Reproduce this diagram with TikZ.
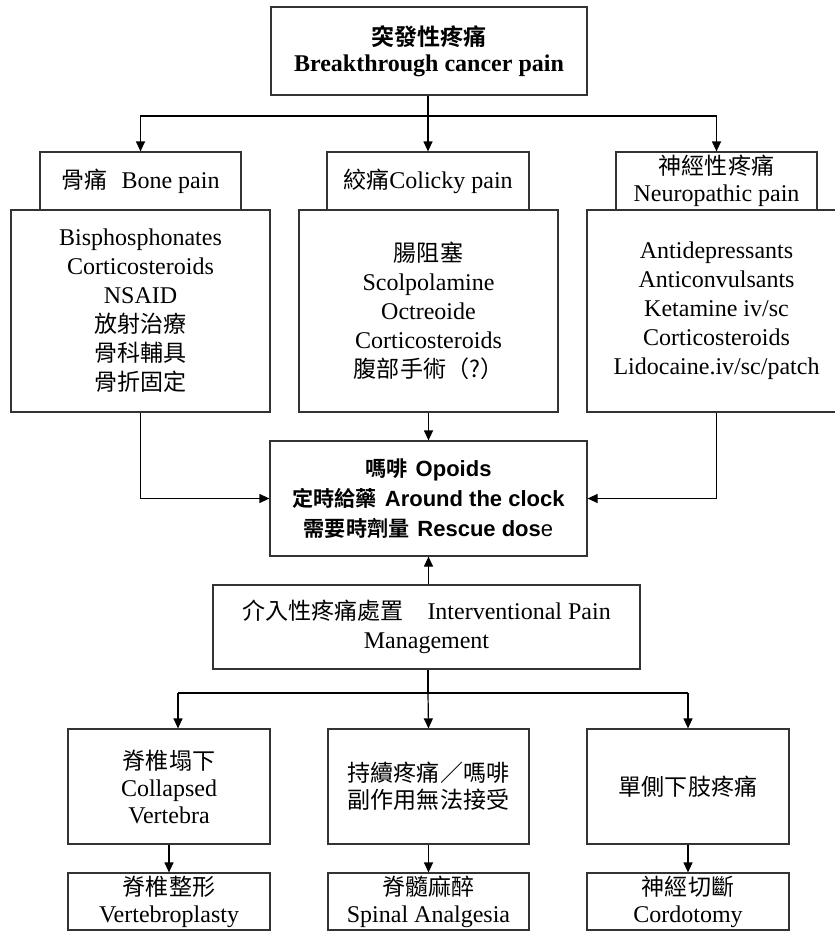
\documentclass[tikz,border=0pt]{standalone}
\usepackage{fontspec}
\usetikzlibrary{arrows.meta}
\setmainfont{Liberation Serif}
\newfontfamily\arialfont{Liberation Sans}
\newfontfamily\cjk[Scale=0.96,BoldFont={Noto Sans CJK TC Bold}]{Noto Sans CJK TC}
\newcommand\zh[1]{{\cjk #1}}

\tikzset{
  box/.style={draw=black!80, line width=1.2pt, rectangle, inner sep=0pt,
              align=center, font=\fontsize{24}{29}\selectfont},
  tight/.style={font=\fontsize{24}{27}\selectfont},
  ln/.style={draw=black, line width=1.2pt},
  arr/.style={ln, -{Triangle[length=10pt,width=9pt]}}
}

\begin{document}
\begin{tikzpicture}[x=1pt,y=-1pt]
\useasboundingbox (0,0) rectangle (835,932);

% title
\node[box, font=\fontsize{24}{26}\selectfont, minimum width=316pt, minimum height=88pt] (top) at (429,51)
  {\bfseries\zh{突發性疼痛}\\ \bfseries Breakthrough cancer pain};

% three kinds of pain: headers
\node[box, minimum width=201pt, minimum height=58pt] (bonehead) at (140.5,181)
  {\zh{骨痛}\hspace{14pt}Bone pain};
\node[box, minimum width=202pt, minimum height=58pt] (colhead) at (428,181)
  {\zh{絞痛}Colicky pain};
\node[box, tight, minimum width=201pt, minimum height=58pt] (neurohead) at (716.5,181)
  {\zh{神經性疼痛}\\Neuropathic pain};

% three kinds of pain: treatments
\node[box, minimum width=259pt, minimum height=202pt] (bonebody) at (140.5,311)
  {Bisphosphonates\\Corticosteroids\\NSAID\\\zh{放射治療}\\\zh{骨科輔具}\\\zh{骨折固定}};
\node[box, minimum width=259pt, minimum height=202pt] (colbody) at (428.5,311)
  {\zh{腸阻塞}\\Scolpolamine\\Octreoide\\Corticosteroids\\\zh{腹部手術（?）}};
\node[box, minimum width=259pt, minimum height=202pt] (neurobody) at (716.5,311)
  {Antidepressants\\Anticonvulsants\\Ketamine iv/sc\\Corticosteroids\\Lidocaine.iv/sc/patch};

% opioids
\node[box, minimum width=317pt, minimum height=115pt,
      font=\arialfont\bfseries\fontsize{22}{30}\selectfont] (opioid) at (428.5,498.5)
  {\zh{嗎啡}\hspace{8pt}Opoids\\
   \zh{定時給藥}\hspace{8pt}Around the clock\\
   \zh{需要時劑量}\hspace{8pt}Rescue dos{\mdseries e}};

% interventional management
\node[box, minimum width=427pt, minimum height=84pt] (interv) at (426.5,627)
  {\zh{介入性疼痛處置}\hspace{24pt}Interventional Pain\\Management};

% indications
\node[box, tight, minimum width=202pt, minimum height=115pt] (collapsed) at (169,786.5)
  {\zh{脊椎塌下}\\Collapsed\\Vertebra};
\node[box, tight, minimum width=201pt, minimum height=115pt] (persist) at (428.5,786.5)
  {\zh{持續疼痛／嗎啡}\\\zh{副作用無法接受}};
\node[box, minimum width=202pt, minimum height=115pt] (unilat) at (688,786.5)
  {\zh{單側下肢疼痛}};

% procedures
\node[box, tight, minimum width=202pt, minimum height=57pt] (vertebro) at (169,901.5)
  {\zh{脊椎整形}\\Vertebroplasty};
\node[box, tight, minimum width=201pt, minimum height=57pt] (spinal) at (428.5,901.5)
  {\zh{脊髓麻醉}\\Spinal Analgesia};
\node[box, tight, minimum width=202pt, minimum height=57pt] (cordo) at (688,901.5)
  {\zh{神經切斷}\\Cordotomy};

% title to the three kinds of pain
\coordinate (split1) at (428,116);
\draw[ln] (top.south -| split1) -- (split1);
\draw[arr] (split1) -| (bonehead.north);
\draw[arr] (split1) -| (neurohead.north);
\draw[arr] (split1) -- (colhead.north);

% treatments to opioids
\draw[arr] (bonebody.south) |- (opioid.west);
\draw[arr] (colbody.south) -- (opioid.north);
\draw[arr] (neurobody.south) |- (opioid.east);
\draw[arr] (interv.north -| opioid.south) -- (opioid.south);

% interventional management to indications
\coordinate (split2) at (428,693);
\coordinate (s2l) at (178,693);
\coordinate (s2r) at (688,693);
\draw[ln] (interv.south -| split2) -- (split2);
\draw[ln] (s2l) -- (s2r);
\draw[arr] (s2l) -- (s2l |- collapsed.north);
\draw[arr] (split2) -- (persist.north);
\draw[arr] (s2r) -- (unilat.north);

% indications to procedures
\draw[arr] (collapsed.south) -- (vertebro.north);
\draw[arr] (persist.south) -- (spinal.north);
\draw[arr] (unilat.south) -- (cordo.north);
\end{tikzpicture}
\end{document}
